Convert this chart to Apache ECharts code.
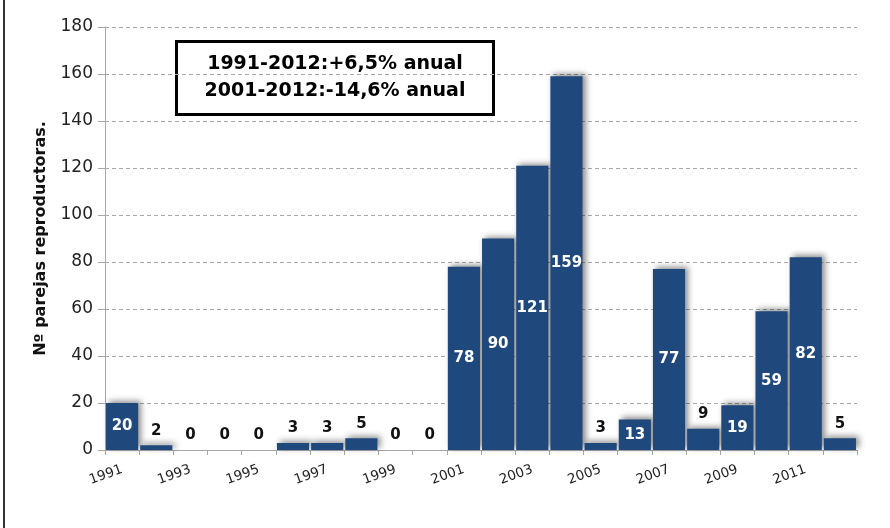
<!DOCTYPE html>
<html>
<head>
<meta charset="utf-8">
<style>
  html, body { margin: 0; padding: 0; background: #fff; }
  #chart { width: 890px; height: 528px; }
</style>
<script src="https://cdn.jsdelivr.net/npm/echarts@6/dist/echarts.min.js"></script>
</head>
<body>
<div id="chart"></div>
<script>
// Breeding pairs per year
const years = ['1991','1992','1993','1994','1995','1996','1997','1998','1999','2000','2001',
               '2002','2003','2004','2005','2006','2007','2008','2009','2010','2011','2012'];
const pairs = [20, 2, 0, 0, 0, 3, 3, 5, 0, 0, 78, 90, 121, 159, 3, 13, 77, 9, 19, 59, 82, 5];
const yTicks = { min: 0, max: 180, interval: 20 };
const yAxisTitle = 'Nº parejas reproductoras.';
const trendLines = ['1991-2012:+6,5% anual', '2001-2012:-14,6% anual'];

const FONT = 'DejaVu Sans';
const BAR = '#1f497d';

// Tall bars carry their label inside in white, short ones above in black
const barData = pairs.map(v => ({
  value: v,
  label: v > 10
    ? { position: 'inside', color: '#ffffff' }
    : { position: 'top', color: '#111111', distance: 7 }
}));

const chart = echarts.init(document.getElementById('chart'), null, { renderer: 'canvas' });

chart.setOption({
  animation: false,
  backgroundColor: '#ffffff',
  grid: { left: 105, right: 33, top: 27, bottom: 78, containLabel: false },
  xAxis: {
    type: 'category',
    data: years,
    axisLine: { lineStyle: { color: '#a6a6a6', width: 1 } },
    axisTick: { show: true, interval: 0, length: 5, lineStyle: { color: '#a6a6a6' } },
    axisLabel: {
      interval: 1,
      rotate: 20,
      margin: 19,
      fontFamily: FONT,
      fontSize: 13.5,
      color: '#222'
    },
    splitLine: { show: false }
  },
  yAxis: {
    type: 'value',
    min: yTicks.min,
    max: yTicks.max,
    interval: yTicks.interval,
    name: yAxisTitle,
    nameLocation: 'middle',
    nameGap: 56,
    nameRotate: 90,
    nameTextStyle: { fontFamily: FONT, fontWeight: 'bold', fontSize: 16, color: '#111' },
    axisLine: { show: true, lineStyle: { color: '#a6a6a6', width: 1 } },
    axisTick: { show: true, length: 7, lineStyle: { color: '#a6a6a6' } },
    axisLabel: { fontFamily: FONT, fontSize: 17, color: '#222', margin: 12 },
    splitLine: { show: true, lineStyle: { color: '#a8a8a8', type: [4, 3], width: 1 } }
  },
  series: [{
    type: 'bar',
    data: barData,
    barCategoryGap: '6%',
    itemStyle: {
      color: BAR,
      shadowColor: 'rgba(0,0,0,0.45)',
      shadowBlur: 6,
      shadowOffsetX: 3,
      shadowOffsetY: -2
    },
    label: {
      show: true,
      fontFamily: FONT,
      fontWeight: 'bold',
      fontSize: 15
    },
    z: 3
  }],
  graphic: [
    {
      type: 'line',
      shape: { x1: 4, y1: 0, x2: 4, y2: 528 },
      style: { stroke: '#333', lineWidth: 2 }
    },
    {
      type: 'group',
      left: 175,
      top: 40,
      z: 10,
      children: [
        {
          type: 'rect',
          shape: { x: 0, y: 0, width: 317, height: 73 },
          style: { fill: '#ffffff', stroke: '#000000', lineWidth: 3 }
        },
        {
          type: 'text',
          x: 158.5,
          y: 23,
          style: {
            text: trendLines[0],
            fontFamily: FONT, fontWeight: 'bold', fontSize: 19,
            fill: '#000', align: 'center', verticalAlign: 'middle'
          }
        },
        {
          type: 'text',
          x: 158.5,
          y: 50,
          style: {
            text: trendLines[1],
            fontFamily: FONT, fontWeight: 'bold', fontSize: 19,
            fill: '#000', align: 'center', verticalAlign: 'middle'
          }
        }
      ]
    }
  ]
});
</script>
</body>
</html>
